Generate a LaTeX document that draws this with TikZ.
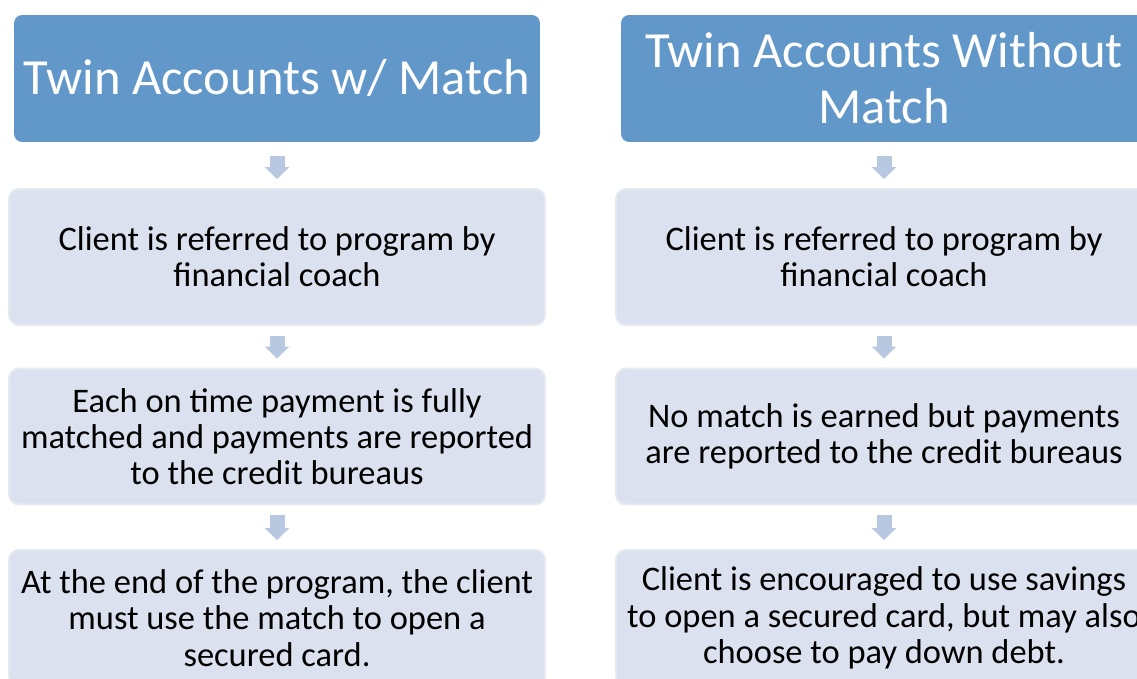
\documentclass[tikz,border=0pt]{standalone}
\usepackage{fontspec}
\setmainfont{Carlito}
\usetikzlibrary{arrows.meta}
\definecolor{headblue}{HTML}{6297C9}
\definecolor{stagefill}{HTML}{DBE1EE}
\definecolor{stageline}{HTML}{E5E9F2}
\definecolor{arrowblue}{HTML}{B7C8E0}
\begin{document}
\begin{tikzpicture}[x=0.02cm,y=-0.02cm,head/.style={shape=rectangle,rounded corners=0.16cm,fill=headblue,minimum width=10.52cm,minimum height=2.54cm,inner sep=0,align=center,text=white,font=\fontsize{28.8}{32}\selectfont},stage/.style={shape=rectangle,rounded corners=0.2cm,fill=stagefill,draw=stageline,line width=0.04cm,minimum width=10.72cm,minimum height=2.72cm,inner sep=0,align=center,font=\fontsize{19.6}{20.6}\selectfont},flow/.style={draw=arrowblue,line width=0.3cm,-{Triangle[width=0.48cm,length=0.24cm]},shorten >=0.18cm}]
\def\cxa{277};
\def\cxb{884};
\def\ya{78.5};
\def\yb{257};
\def\yc{436.5};
\def\yd{618};

\useasboundingbox (0,0) rectangle (1137,679);
\clip (0,0) rectangle (1137,679);

\node[head] (hL) at (\cxa,\ya) {Twin Accounts w/ Match};
\node[stage] (sL1) at (\cxa,\yb) {Client is referred to program by\\financial coach};
\node[stage] (sL2) at (\cxa,\yc) {Each on time payment is fully\\matched and payments are reported\\to the credit bureaus};
\node[stage] (sL3) at (\cxa,\yd) {At the end of the program, the client\\must use the match to open a\\secured card.};
\draw[flow,shorten <=0.28cm] (hL) -- (sL1);
\draw[flow,shorten <=0.2cm] (sL1) -- (sL2);
\draw[flow,shorten <=0.2cm] (sL2) -- (sL3);

\node[head] (hR) at (\cxb,\ya) {Twin Accounts Without\\Match};
\node[stage] (sR1) at (\cxb,\yb) {Client is referred to program by\\financial coach};
\node[stage] (sR2) at (\cxb,\yc) {No match is earned but payments\\are reported to the credit bureaus};
\node[stage] (sR3) at (\cxb,\yd) {Client is encouraged to use savings\\to open a secured card, but may also\\choose to pay down debt.};
\draw[flow,shorten <=0.28cm] (hR) -- (sR1);
\draw[flow,shorten <=0.2cm] (sR1) -- (sR2);
\draw[flow,shorten <=0.2cm] (sR2) -- (sR3);
\end{tikzpicture}
\end{document}
